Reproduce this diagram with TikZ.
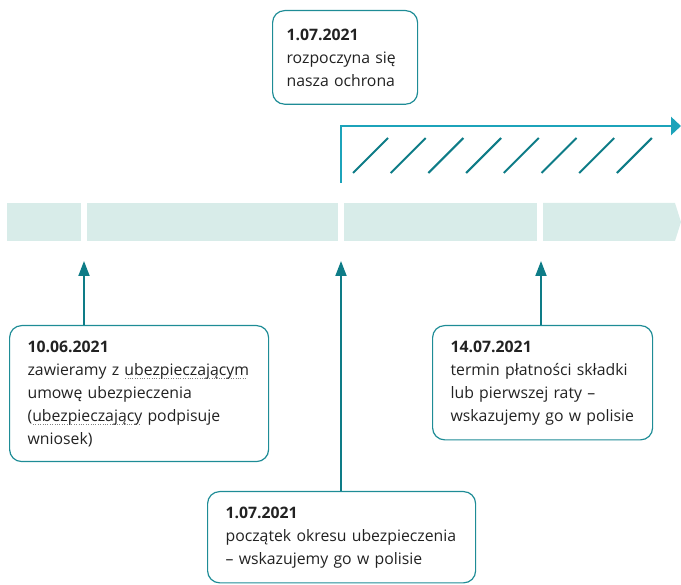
\documentclass[tikz,border=0pt]{standalone}
\usepackage{fontspec}
\setmainfont{Open Sans}
\usetikzlibrary{arrows.meta}
\definecolor{barfill}{HTML}{D8ECE9}
\definecolor{boxline}{HTML}{1E8C96}
\definecolor{arrowteal}{HTML}{0E7C87}
\definecolor{protline}{HTML}{1CA3BA}
\definecolor{txt}{HTML}{222222}
\newcommand\dotund[1]{\setbox0=\hbox{#1}\rlap{\color{gray}\lower4pt\hbox to \wd0{\leaders\hbox to 2.4pt{\hss\vrule width 1pt height 0.8pt\hss}\hfill}}\box0\relax}
\begin{document}
\begin{tikzpicture}[x=1pt,y=-1pt,
		infobox/.style={draw=boxline, line width=1.2pt, rounded corners=12pt, anchor=north west,
			inner xsep=18pt, inner ysep=15pt, align=left, text=txt,
			font=\fontsize{15.8}{23}\selectfont},
		uparrow/.style={draw=arrowteal, line width=1.8pt, -{Triangle[length=15pt,width=11pt]}},
		hatch/.style={draw=arrowteal, line width=2pt},
		protarrow/.style={draw=protline, line width=2.6pt, -{Triangle[length=10pt,width=18pt]}}]
	\useasboundingbox (0,0) rectangle (681,585);
	% time bar
	\fill[barfill] (7,203) rectangle (81,241);
	\fill[barfill] (87,203) rectangle (338,241);
	\fill[barfill] (344,203) rectangle (537,241);
	\fill[barfill] (543,203) -- (675,203) -- (681,222) -- (675,241) -- (543,241) -- cycle;
	% protection
	\coordinate (pstart) at (341,183);
	\coordinate (pend) at (681,126);
	\draw[protarrow] (pstart) |- (pend);
	\foreach \i in {0,...,7}
		\draw[hatch] ({353+37.7*\i},173) -- ++(35,-35);
	% boxes
	\node[infobox, inner xsep=14pt, inner ysep=18pt, text width=117pt] (top) at (272,10) {\textbf{1.07.2021}\\rozpoczyna się\\nasza ochrona};
	\node[infobox, text width=223pt] (a1) at (9,325) {\textbf{10.06.2021}\\zawieramy z \dotund{ubezpieczającym}\\umowę ubezpieczenia\\(\dotund{ubezpieczający} podpisuje\\wniosek)};
	\node[infobox, text width=232pt] (a2) at (207,491) {\textbf{1.07.2021}\\początek okresu ubezpieczenia\\– wskazujemy go w polisie};
	\node[infobox, text width=184pt] (a3) at (432,325) {\textbf{14.07.2021}\\termin płatności składki\\lub pierwszej raty –\\wskazujemy go w polisie};
	% arrows
	\coordinate (t1) at (84,261);
	\coordinate (t2) at (341,261);
	\coordinate (t3) at (541,261);
	\draw[uparrow] (t1 |- a1.north) -- (t1);
	\draw[uparrow] (t2 |- a2.north) -- (t2);
	\draw[uparrow] (t3 |- a3.north) -- (t3);
\end{tikzpicture}
\end{document}
